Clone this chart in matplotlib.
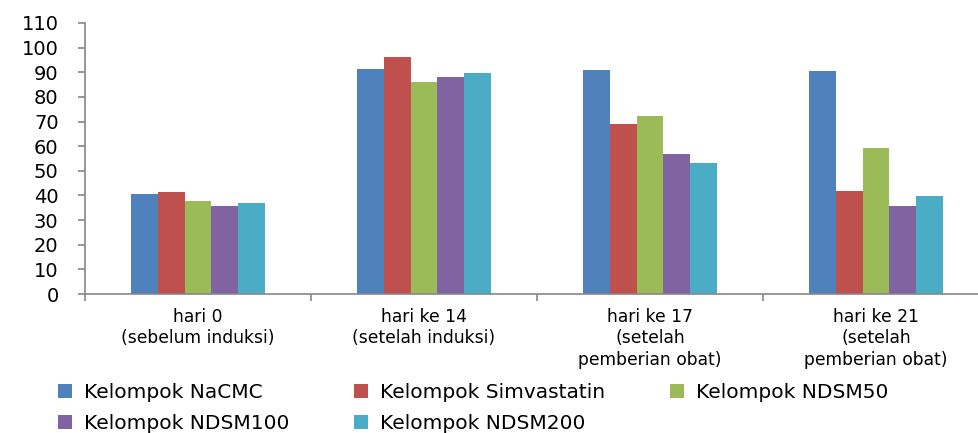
import numpy as np
import matplotlib
matplotlib.use("Agg")
import matplotlib.pyplot as plt
from matplotlib.ticker import MultipleLocator, FixedLocator

plt.rcParams['font.family'] = 'DejaVu Sans'

# ================= Data =================
categories = [
    "hari 0\n(sebelum induksi)",
    "hari ke 14\n(setelah induksi)",
    "hari ke 17\n(setelah\npemberian obat)",
    "hari ke 21\n(setelah\npemberian obat)",
]
series_names = [
    "Kelompok NaCMC",
    "Kelompok Simvastatin",
    "Kelompok NDSM50",
    "Kelompok NDSM100",
    "Kelompok NDSM200",
]
nacmc = [40.6, 91.3, 90.9, 90.4]
simvastatin = [41.3, 96.2, 69.1, 41.9]
ndsm50 = [37.6, 86.2, 72.1, 59.1]
ndsm100 = [35.6, 88.1, 56.7, 35.6]
ndsm200 = [36.9, 89.7, 53.3, 39.9]
series_values = [nacmc, simvastatin, ndsm50, ndsm100, ndsm200]

colors = ["#4F81BD", "#C0504D", "#9BBB59", "#8064A2", "#4BACC6"]
axis_color = "#868686"

# ================= Plotting =================
fig = plt.figure(figsize=(9.79, 4.33), dpi=100)
ax = fig.add_axes([85 / 979, 1 - 294 / 433, 1 - 85 / 979, 271 / 433])

x = np.arange(len(categories))
bar_w = 0.119
bars = []
for i, (name, vals) in enumerate(zip(series_names, series_values)):
    b = ax.bar(x + (i - 2) * bar_w, vals, width=bar_w, color=colors[i],
               label=name, zorder=2)
    bars.append(b)

ax.set_ylim(0, 110)
ax.set_xlim(-0.5, -0.5 + 894 / 226)
ax.yaxis.set_major_locator(MultipleLocator(10))

# spines
for s in ["top", "right"]:
    ax.spines[s].set_visible(False)
for s in ["left", "bottom"]:
    ax.spines[s].set_color(axis_color)
    ax.spines[s].set_linewidth(1.2)

# y ticks
ax.tick_params(axis="y", direction="out", length=5, width=1.2,
               color=axis_color, labelsize=14, pad=14)

# x: labels at centers, tick marks at boundaries
ax.set_xticks(x)
ax.set_xticklabels(categories, fontsize=12.3, linespacing=1.25)
ax.tick_params(axis="x", which="major", length=0, pad=10)
ax.xaxis.set_minor_locator(FixedLocator(np.arange(-0.5, 4.0, 1.0)))
ax.tick_params(axis="x", which="minor", direction="out", length=5,
               width=1.2, color=axis_color)
ax.spines["left"].set_bounds(0, 110)

# legend, filled row by row like the original (matplotlib fills by column)
order = [0, 3, 1, 4, 2]
fig.legend([bars[k] for k in order], [series_names[k] for k in order],
           loc="upper left", bbox_to_anchor=(58 / 979, 1 - 383 / 433),
           ncol=3, frameon=False, fontsize=14.5, borderaxespad=0, borderpad=0,
           handlelength=0.7, handleheight=0.7, handletextpad=0.6,
           columnspacing=3.2, labelspacing=0.6)

plt.savefig("out.png", dpi=100)
